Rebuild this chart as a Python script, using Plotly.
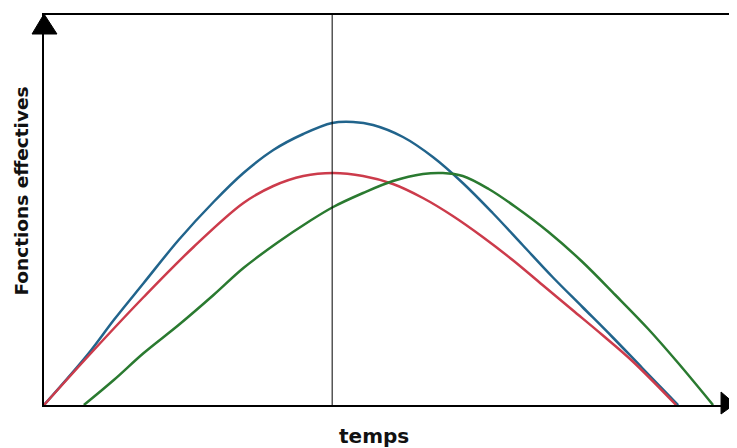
import plotly.graph_objects as go

# values (x: time units, y: effective-function units)
blue_x = [0, 45, 70, 100, 135, 170, 200, 230, 260, 289, 310, 330, 360, 390, 420, 450, 480, 510, 540, 570, 600, 636]
blue_y = [0, 52, 85, 122, 165, 203, 232, 255, 271, 282, 283, 280, 268, 248, 222, 192, 160, 128, 98, 68, 37, 0]
red_x = [0, 50, 100, 150, 200, 230, 260, 290, 320, 350, 380, 410, 440, 470, 500, 530, 560, 590, 634]
red_y = [0, 55, 108, 158, 202, 219, 229, 232, 229, 221, 207, 189, 168, 145, 120, 95, 70, 44, 0]
green_x = [40, 70, 100, 135, 170, 200, 235, 265, 290, 320, 350, 380, 400, 420, 446, 473, 506, 539, 573, 606, 636, 671]
green_y = [0, 25, 52, 80, 110, 137, 163, 183, 198, 212, 224, 231, 232, 229, 216, 198, 173, 144, 110, 76, 42, 0]
vline_x = 289

OFF = 8  # default page body margin
W, H = 737 - OFF, 448 - OFF
L, R, T, B = 44 - OFF, 2, 15 - OFF, 43
pw, ph = W - L - R, H - T - B


def px(x):
    return (x - OFF - L) / pw


def py(y):
    return (H - B - (y - OFF)) / ph


fig = go.Figure()
fig.add_trace(go.Scatter(x=blue_x, y=blue_y, mode="lines",
                         line=dict(color="#21648c", width=2.5, shape="spline")))
fig.add_trace(go.Scatter(x=red_x, y=red_y, mode="lines",
                         line=dict(color="#cc3b4b", width=2.5, shape="spline")))
fig.add_trace(go.Scatter(x=green_x, y=green_y, mode="lines",
                         line=dict(color="#2a7a30", width=2.5, shape="spline")))

shapes = [
    dict(type="line", xref="x", yref="paper", x0=vline_x, x1=vline_x, y0=0, y1=1,
         line=dict(color="black", width=1)),
    dict(type="path", xref="paper", yref="paper",
         path=f"M {px(44)} {py(14)} L {px(32)} {py(34)} L {px(57)} {py(34)} Z",
         fillcolor="black", line=dict(color="black", width=1)),
    dict(type="path", xref="paper", yref="paper",
         path=f"M {px(737)} {py(404)} L {px(723)} {py(392)} L {px(723)} {py(414)} Z",
         fillcolor="black", line=dict(color="black", width=1)),
]

fig.update_layout(
    width=W, height=H,
    margin=dict(l=L, r=R, t=T, b=B),
    paper_bgcolor="white", plot_bgcolor="white",
    showlegend=False,
    shapes=shapes,
    xaxis=dict(range=[0, pw], showgrid=False, zeroline=False, showticklabels=False, ticks="",
               showline=True, linecolor="black", linewidth=2, mirror=True, fixedrange=True),
    yaxis=dict(range=[0, ph], showgrid=False, zeroline=False, showticklabels=False, ticks="",
               showline=True, linecolor="black", linewidth=2, mirror=True, fixedrange=True),
    annotations=[
        dict(text="<b>Fonctions effectives</b>", xref="paper", yref="paper",
             x=px(9), y=py(191), showarrow=False, textangle=-90,
             font=dict(family="DejaVu Sans", size=18.5, color="#111")),
        dict(text="<b>temps</b>", xref="paper", yref="paper",
             x=px(375), y=py(450), showarrow=False,
             font=dict(family="DejaVu Sans", size=20, color="#111")),
    ],
)

fig.write_html("out.html")
